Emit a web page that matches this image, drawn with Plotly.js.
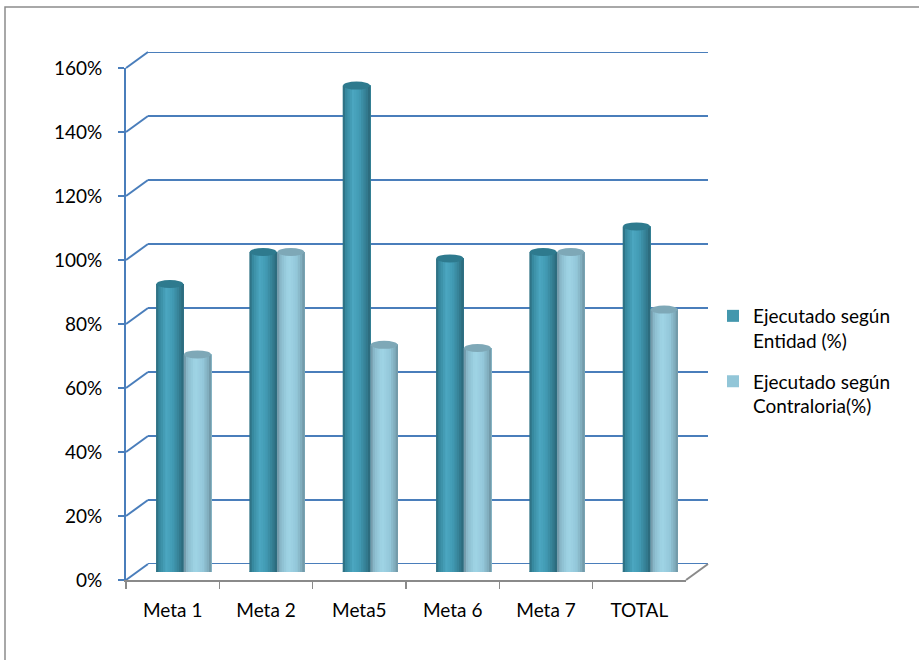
<!DOCTYPE html>
<html>
<head>
<meta charset="utf-8">
<script src="https://cdn.plot.ly/plotly-3.0.1.min.js"></script>
<style>
html,body{margin:0;padding:0;background:#fff;}
#chart{width:919px;height:660px;}
</style>
</head>
<body>
<div id="chart"></div>
<script>
// ---- data ----
const categories = ['Meta 1', 'Meta 2', 'Meta5', 'Meta 6', 'Meta 7', 'TOTAL'];
const entidad = [90, 100, 152, 98, 100, 108];
const contraloria = [68, 100, 71, 70, 100, 82];
const seriesNames = ['Ejecutado según<br>Entidad (%)', 'Ejecutado según<br>Contraloria(%)'];
const yTicks = [0, 20, 40, 60, 80, 100, 120, 140, 160];

// ---- geometry (pixels) ----
const W = 919, H = 660;
const FX0 = 126, FX1 = 686, FY0 = 580, FY1 = 68; // front plane
const DX = 22, DY = 16;                              // depth offset
const YMAX = 160;
const px = x => x / W, py = y => (H - y) / H;

const dom = (dx, dy) => ({
  x: [px(FX0 + dx), px(FX1 + dx)],
  y: [py(FY0 - dy), py(FY1 - dy)]
});
const back = dom(DX, DY), mid = dom(DX / 2, DY / 2), front = dom(0, 0);

const FONT = 'Lato, Calibri, Carlito, sans-serif';
const FS = 19;
const BLUE = '#4A7EBB';
const GRAY = '#8A8A8A';

// gradient helpers
function hex2rgb(h){h=h.replace('#','');return [0,2,4].map(i=>parseInt(h.substr(i,2),16));}
function grad(stops, t){
  for(let i=0;i<stops.length-1;i++){
    const [t0,c0]=stops[i],[t1,c1]=stops[i+1];
    if(t>=t0&&t<=t1){
      const f=(t-t0)/(t1-t0), a=hex2rgb(c0), b=hex2rgb(c1);
      return 'rgb('+a.map((v,k)=>Math.round(v+(b[k]-v)*f)).join(',')+')';
    }
  }
  return stops[stops.length-1][1];
}
const darkStops = [[0,'#2A6879'],[0.12,'#37889E'],[0.38,'#4BA7C1'],[0.62,'#4199B2'],[0.85,'#337D91'],[1,'#2A6576']];
const lightStops = [[0,'#6C8F9E'],[0.14,'#8BBCCD'],[0.42,'#A0D5E6'],[0.7,'#94C8DA'],[0.9,'#7EAABA'],[1,'#6B909F']];
const topColors = ['#2E7A8E', '#7EA8B7'];
const legendColors = ['#4397AD', '#92C6D8'];

const BW = 0.296;     // bar width in category units
const NS = 12;        // shading steps per cylinder
const series = [entidad, contraloria];
const stopsList = [darkStops, lightStops];
const offsets = [-BW, 0];

const traces = [];

// back wall subplot (xy) - holds the gridline reference axes
traces.push({
  type: 'scatter', x: categories, y: entidad.map(() => null),
  xaxis: 'x', yaxis: 'y', showlegend: false, hoverinfo: 'skip'
});

// cylinders: each step spans from its left edge to the right edge of the bar,
// later steps cover the right part of earlier ones (no seams)
series.forEach((vals, s) => {
  for (let k = 0; k < NS; k++) {
    const t = (k + 0.5) / NS;
    traces.push({
      type: 'bar', x: categories, y: vals,
      xaxis: 'x2', yaxis: 'y2',
      offset: offsets[s] + k * BW / NS,
      width: BW * (NS - k) / NS,
      marker: { color: grad(stopsList[s], t), line: { width: 0 } },
      showlegend: false, hoverinfo: 'skip'
    });
  }
  // legend entry
  traces.push({
    type: 'bar', x: [categories[0]], y: [null], name: seriesNames[s],
    legendgroup: 'g' + s,
    xaxis: 'x2', yaxis: 'y2',
    marker: { color: legendColors[s] }, showlegend: true
  });
});

// front axes (subplot x3y3)
traces.push({
  type: 'scatter', x: categories, y: entidad.map(() => null),
  xaxis: 'x3', yaxis: 'y3', showlegend: false, hoverinfo: 'skip'
});

// shapes
const unitPx = (FY0 - FY1) / YMAX;
const eH = 8 / unitPx;
const shapes = [];

// back wall gridlines + diagonals to the front axis
yTicks.forEach(v => {
  shapes.push({
    type: 'line', xref: 'paper', yref: 'y', layer: 'below',
    x0: back.x[0], x1: back.x[1], y0: v, y1: v,
    line: { color: BLUE, width: 2 }
  });
  const f = v / YMAX;
  shapes.push({
    type: 'line', xref: 'paper', yref: 'paper', layer: 'below',
    x0: front.x[0], y0: front.y[0] + f * (front.y[1] - front.y[0]),
    x1: back.x[0], y1: back.y[0] + f * (back.y[1] - back.y[0]),
    line: { color: BLUE, width: 2 }
  });
});

// cylinder bottoms and tops
series.forEach((vals, s) => {
  vals.forEach((v, i) => {
    shapes.push({
      type: 'circle', xref: 'x2', yref: 'y2', layer: 'between',
      x0: i + offsets[s], x1: i + offsets[s] + BW,
      y0: -eH / 2, y1: eH / 2,
      fillcolor: grad(stopsList[s], 0.45), line: { width: 0 }
    });
    shapes.push({
      type: 'circle', xref: 'x2', yref: 'y2', layer: 'above',
      x0: i + offsets[s] + 0.004, x1: i + offsets[s] + BW - 0.004,
      y0: v - eH / 2, y1: v + eH / 2,
      fillcolor: topColors[s], line: { width: 0 }
    });
  });
});

// floor right edge
shapes.push({
  type: 'line', xref: 'paper', yref: 'paper', layer: 'above',
  x0: front.x[1], y0: front.y[0], x1: back.x[1], y1: back.y[0],
  line: { color: GRAY, width: 2 }
});
// chart area border
shapes.push({
  type: 'rect', xref: 'paper', yref: 'paper', layer: 'below',
  x0: px(5), y0: -0.02, x1: 1.02, y1: py(7),
  line: { color: '#8C8C8C', width: 1.5 }, fillcolor: 'rgba(0,0,0,0)'
});

const catRange = [-0.5, categories.length - 0.5];
const hidden = { showgrid: false, zeroline: false, showline: false, showticklabels: false, ticks: '' };

const layout = {
  width: W, height: H,
  margin: { l: 0, r: 0, t: 0, b: 0 },
  paper_bgcolor: '#fff', plot_bgcolor: 'rgba(0,0,0,0)',
  font: { family: FONT, size: FS, color: '#000' },
  barmode: 'overlay',
  showlegend: true,
  legend: {
    x: px(713), y: py(297), xanchor: 'left', yanchor: 'top',
    font: { family: FONT, size: FS, color: '#000' },
    valign: 'top', tracegroupgap: 13, itemclick: false, itemdoubleclick: false,
    bgcolor: 'rgba(0,0,0,0)'
  },
  xaxis: Object.assign({ domain: back.x, type: 'category', range: catRange, anchor: 'y' }, hidden),
  yaxis: Object.assign({ domain: back.y, range: [0, YMAX], anchor: 'x' }, hidden),
  xaxis2: Object.assign({ domain: mid.x, type: 'category', range: catRange, anchor: 'y2' }, hidden),
  yaxis2: Object.assign({ domain: mid.y, range: [0, YMAX], anchor: 'x2' }, hidden),
  xaxis3: {
    domain: front.x, type: 'category', range: catRange, anchor: 'y3',
    showgrid: false, zeroline: false,
    showline: true, linecolor: GRAY, linewidth: 2,
    ticks: 'outside', tickson: 'boundaries', ticklen: 7, tickcolor: GRAY, tickwidth: 1.5,
    tickfont: { family: FONT, size: FS, color: '#000' }, ticklabelstandoff: 12
  },
  yaxis3: {
    domain: front.y, range: [0, YMAX], anchor: 'x3',
    tickvals: yTicks, ticktext: yTicks.map(v => v + '%'),
    showgrid: false, zeroline: false,
    showline: true, linecolor: BLUE, linewidth: 2,
    ticks: 'outside', ticklen: 6, tickcolor: BLUE, tickwidth: 2,
    tickfont: { family: FONT, size: FS, color: '#000' }, ticklabelstandoff: 12
  },
  shapes: shapes
};

Plotly.newPlot('chart', traces, layout, { displayModeBar: false, staticPlot: true });
</script>
</body>
</html>
